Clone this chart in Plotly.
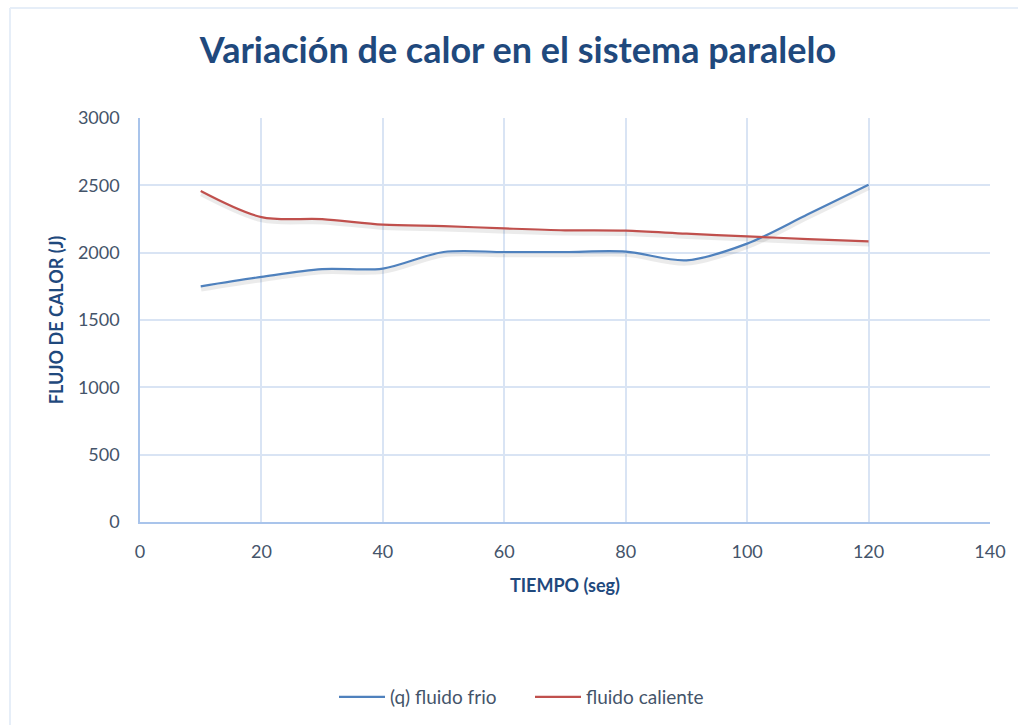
import plotly.graph_objects as go

# Time (s) and heat flow (J) for the parallel-flow exchanger
tiempo = [10, 20, 30, 40, 50, 60, 70, 80, 90, 100, 110, 120]
q_frio = [1750, 1820, 1878, 1882, 2005, 2005, 2005, 2008, 1943, 2067, 2285, 2505]
q_caliente = [2458, 2264, 2249, 2208, 2197, 2180, 2166, 2163, 2141, 2121, 2101, 2084]

x_ticks = [0, 20, 40, 60, 80, 100, 120, 140]
y_ticks = [0, 500, 1000, 1500, 2000, 2500, 3000]

FONT = "Lato"
TEXT_COLOR = "#44546A"
TITLE_COLOR = "#1F497D"
GRID_COLOR = "#D9E4F4"
AXIS_COLOR = "#A9C4EB"

W, H = 1018, 725
L, R, T, B = 140, 28, 118, 203
pw, ph = W - L - R, H - T - B

# soft drop shadow under each series, offset a few pixels down/right
dx = 0.4 * 140 / pw
dy = 3.0 * 3000 / ph

fig = go.Figure()

for ys in (q_frio, q_caliente):
    fig.add_trace(go.Scatter(
        x=[t + dx for t in tiempo], y=[v - dy for v in ys], mode="lines",
        line=dict(color="rgba(0,0,0,0.08)", width=4.5, shape="spline", smoothing=0.9),
        showlegend=False, hoverinfo="skip",
    ))

fig.add_trace(go.Scatter(
    x=tiempo, y=q_frio, mode="lines", name="(q) fluido frio",
    line=dict(color="#4F81BD", width=2.2, shape="spline", smoothing=0.9),
))
fig.add_trace(go.Scatter(
    x=tiempo, y=q_caliente, mode="lines", name="fluido caliente",
    line=dict(color="#C0504D", width=2.2, shape="spline", smoothing=0.9),
))


def px_x(p):
    return (p - L) / pw


def px_y(p):
    return (H - B - p) / ph


# light frame around the chart area
frame = dict(type="line", xref="paper", yref="paper",
             line=dict(color="#E6EEF8", width=2), layer="below")
fig.add_shape(**frame, x0=px_x(10), y0=px_y(8), x1=px_x(W), y1=px_y(8))
fig.add_shape(**frame, x0=px_x(10), y0=px_y(8), x1=px_x(10), y1=px_y(H))

fig.update_layout(
    width=W, height=H,
    margin=dict(l=L, r=R, t=T, b=B),
    paper_bgcolor="white", plot_bgcolor="white",
    font=dict(family=FONT, color=TEXT_COLOR, size=18),
    title=dict(
        text="<b>Variación de calor en el sistema paralelo</b>",
        font=dict(family=FONT, size=36, color=TITLE_COLOR),
        x=518 / W, xanchor="center", xref="container",
        y=1 - 50 / H, yanchor="middle", yref="container",
    ),
    xaxis=dict(
        range=[0, 140], tickvals=x_ticks, ticktext=[str(v) for v in x_ticks],
        showgrid=True, gridcolor=GRID_COLOR, gridwidth=1.5,
        showline=True, linecolor=AXIS_COLOR, linewidth=1.5,
        zeroline=False, ticks="", ticklabelstandoff=13,
        tickfont=dict(size=18, color=TEXT_COLOR),
        title=dict(text="<b>TIEMPO (seg)</b>", font=dict(size=18, color=TITLE_COLOR),
                   standoff=18),
    ),
    yaxis=dict(
        range=[0, 3000], tickvals=y_ticks, ticktext=[str(v) for v in y_ticks],
        showgrid=True, gridcolor=GRID_COLOR, gridwidth=1.5,
        showline=True, linecolor=AXIS_COLOR, linewidth=1.5,
        zeroline=False, ticks="", ticklabelstandoff=15,
        tickfont=dict(size=18, color=TEXT_COLOR),
        title=dict(text="<b>FLUJO DE CALOR (J)</b>", font=dict(size=18, color=TITLE_COLOR),
                   standoff=10),
    ),
    legend=dict(
        orientation="h", x=530 / W, xref="container", xanchor="center",
        y=1 - 697 / H, yref="container", yanchor="middle",
        font=dict(size=19, color=TEXT_COLOR), itemwidth=46,
        entrywidth=135, entrywidthmode="pixels",
        bgcolor="rgba(0,0,0,0)",
    ),
    showlegend=True,
)

fig.write_html("out.html")
